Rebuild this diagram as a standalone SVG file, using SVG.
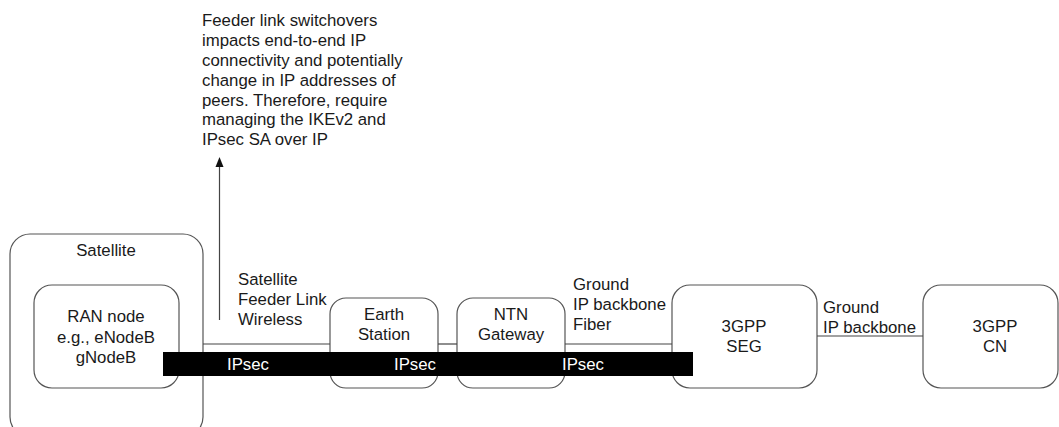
<svg xmlns="http://www.w3.org/2000/svg" width="1059" height="427" viewBox="0 0 1059 427">
<style>
.box{fill:#fff;stroke:#555;stroke-width:1.2}
.t{font-family:"Liberation Sans",Arial,sans-serif;font-size:16.8px;fill:#1a1a1a}
.c{text-anchor:middle}
.w{font-family:"Liberation Sans",Arial,sans-serif;font-size:16.8px;fill:#fff}
.ln{stroke:#444;stroke-width:1.2;fill:none}
</style>
<rect width="1059" height="427" fill="#fff"/>
<g id="satellite">
<rect class="box" x="10" y="234" width="193" height="203" rx="20"/>
<text class="t c" x="106" y="256">Satellite</text>
</g>
<g id="ran">
<rect class="box" x="34" y="285" width="145" height="103" rx="18"/>
<text class="t c" x="106" y="322">RAN node</text>
<text class="t c" x="106" y="343">e.g., eNodeB</text>
<text class="t c" x="106" y="363">gNodeB</text>
</g>
<g id="earth">
<rect class="box" x="330" y="298" width="108" height="90" rx="16"/>
<text class="t c" x="384" y="320">Earth</text>
<text class="t c" x="384" y="340">Station</text>
</g>
<g id="ntn">
<rect class="box" x="457" y="298" width="108" height="90" rx="16"/>
<text class="t c" x="511" y="320">NTN</text>
<text class="t c" x="511" y="340">Gateway</text>
</g>
<g id="seg">
<rect class="box" x="672" y="285" width="145" height="103" rx="18"/>
<text class="t c" x="744" y="332">3GPP</text>
<text class="t c" x="744" y="352">SEG</text>
</g>
<g id="cn">
<rect class="box" x="923" y="285" width="135" height="103" rx="18"/>
<text class="t c" x="995" y="332">3GPP</text>
<text class="t c" x="995" y="352">CN</text>
</g>
<g id="connectors">
<line class="ln" x1="203" y1="344" x2="330" y2="344"/>
<line class="ln" x1="438" y1="344" x2="457" y2="344"/>
<line class="ln" x1="565" y1="344" x2="672" y2="344"/>
<line class="ln" x1="817" y1="336" x2="923" y2="336"/>
<line class="ln" x1="219.5" y1="320" x2="219.5" y2="164"/>
<polygon points="219.5,157 215.5,167 223.5,167" fill="#111"/>
</g>
<g id="ipsec">
<rect x="163" y="352" width="530" height="24" fill="#000"/>
<text class="w" x="227" y="370">IPsec</text>
<text class="w" x="394" y="370">IPsec</text>
<text class="w" x="562" y="370">IPsec</text>
</g>
<g id="labels">
<text class="t" x="238" y="285">Satellite</text>
<text class="t" x="238" y="305">Feeder Link</text>
<text class="t" x="238" y="325">Wireless</text>
<text class="t" x="573" y="290">Ground</text>
<text class="t" x="573" y="310">IP backbone</text>
<text class="t" x="573" y="330">Fiber</text>
<text class="t" x="823" y="313">Ground</text>
<text class="t" x="823" y="333">IP backbone</text>
<text class="t" x="202" y="25.5">Feeder link switchovers</text>
<text class="t" x="202" y="45.5">impacts end-to-end IP</text>
<text class="t" x="202" y="65.5">connectivity and potentially</text>
<text class="t" x="202" y="85.5">change in IP addresses of</text>
<text class="t" x="202" y="105.5">peers. Therefore, require</text>
<text class="t" x="202" y="125">managing the IKEv2 and</text>
<text class="t" x="202" y="145">IPsec SA over IP</text>
</g>
</svg>
